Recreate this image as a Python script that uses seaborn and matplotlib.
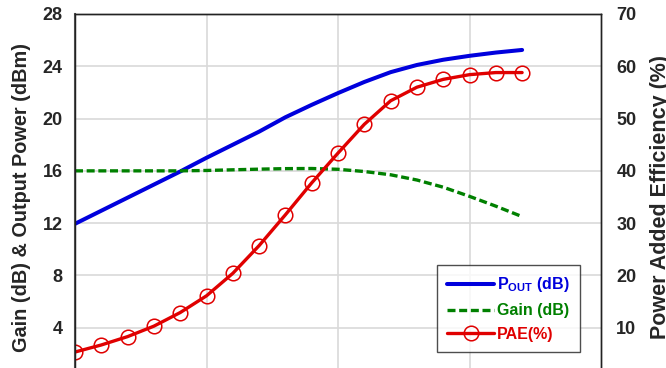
import matplotlib
matplotlib.use("Agg")
import matplotlib.pyplot as plt
import seaborn as sns
import pandas as pd
from matplotlib.lines import Line2D

# Input power steps (x axis, labels cut off in the reference)
pin = list(range(-10, 8))
pout = [11.95, 12.95, 13.95, 14.95, 15.95, 17.0, 18.0, 19.0, 20.1, 21.05,
        21.95, 22.8, 23.55, 24.1, 24.5, 24.8, 25.05, 25.25]
gain = [16.0, 16.0, 16.0, 16.0, 16.0, 16.03, 16.08, 16.13, 16.17, 16.18,
        16.12, 15.95, 15.7, 15.3, 14.75, 14.05, 13.3, 12.5]
pae = [5.35, 6.7, 8.3, 10.3, 12.9, 16.1, 20.4, 25.7, 31.6, 37.7,
       43.4, 48.9, 53.4, 56.0, 57.5, 58.4, 58.8, 58.8]

left_ticks = [4, 8, 12, 16, 20, 24, 28]
right_ticks = [10, 20, 30, 40, 50, 60, 70]

df = pd.DataFrame({"pin": pin, "pout": pout, "gain": gain, "pae": pae})

sns.set_style("white")
plt.rcParams['font.family'] = ['Liberation Sans', 'DejaVu Sans']
plt.rcParams['mathtext.fontset'] = 'custom'
plt.rcParams['mathtext.bf'] = 'Liberation Sans:bold'
plt.rcParams['mathtext.rm'] = 'Liberation Sans'

BLUE = "#0000dd"
GREEN = "#008000"
RED = "#e00000"
DASH = (0, (2.4, 1.1))

fig = plt.figure(figsize=(6.66, 3.68), dpi=100)
ax = fig.add_axes([75/666, 1 - 380/368, 526/666, 366/368])
ax2 = ax.twinx()

sns.lineplot(data=df, x="pin", y="pout", ax=ax, color=BLUE, lw=2.9, legend=False)
sns.lineplot(data=df, x="pin", y="gain", ax=ax, color=GREEN, lw=2.4,
             linestyle=DASH, legend=False)
sns.lineplot(data=df, x="pin", y="pae", ax=ax2, color=RED, lw=2.4,
             marker="o", markersize=10.5, markerfacecolor="none",
             markeredgecolor=RED, markeredgewidth=1.1, legend=False)

ax.set_xlim(-10, 10)
ax.set_ylim(0, 28)
ax2.set_ylim(0, 70)
ax.set_xticks([-5, 0, 5])
ax.set_yticks(left_ticks)
ax2.set_yticks(right_ticks)
ax.grid(True, color="#d9d9d9", lw=1.2)
ax.set_axisbelow(True)
ax2.grid(False)
ax.set_xlabel("")
ax.set_ylabel("Gain (dB) & Output Power (dBm)", fontsize=14.3, fontweight="bold", labelpad=8)
ax2.set_ylabel("Power Added Efficiency (%)", fontsize=15.5, fontweight="bold", labelpad=10)
ax.tick_params(axis="y", length=0, pad=9, labelsize=13)
ax2.tick_params(axis="y", length=0, pad=11, labelsize=13)
for lab in ax.get_yticklabels() + ax2.get_yticklabels():
    lab.set_fontweight("bold")
ax.tick_params(axis="x", labelbottom=False, length=0)

for a in (ax, ax2):
    for s in a.spines.values():
        s.set_color("#222222")
        s.set_linewidth(1.0)
ax.spines["left"].set_color("#555555")
ax.spines["left"].set_linewidth(1.5)

handles = [
    Line2D([], [], color=BLUE, lw=2.9),
    Line2D([], [], color=GREEN, lw=2.4, linestyle=DASH),
    Line2D([], [], color=RED, lw=2.4, marker="o", markersize=10.5,
           markerfacecolor="none", markeredgecolor=RED, markeredgewidth=1.1),
]
labels = [r"P$_{\mathbf{OUT}}$ (dB)", "Gain (dB)", "PAE(%)"]
leg = ax2.legend(handles, labels, loc="upper left",
                 bbox_to_anchor=(437/666, 1 - 265/368), bbox_transform=fig.transFigure,
                 borderaxespad=0,
                 frameon=True, fancybox=False, edgecolor="#222222",
                 handlelength=2.9, handletextpad=0.2, labelspacing=0.55,
                 borderpad=0.65, prop={"weight": "bold", "size": 11.5})
leg.get_frame().set_linewidth(1.0)
for t, c in zip(leg.get_texts(), [BLUE, GREEN, RED]):
    t.set_color(c)

fig.savefig("out.png", dpi=100)
